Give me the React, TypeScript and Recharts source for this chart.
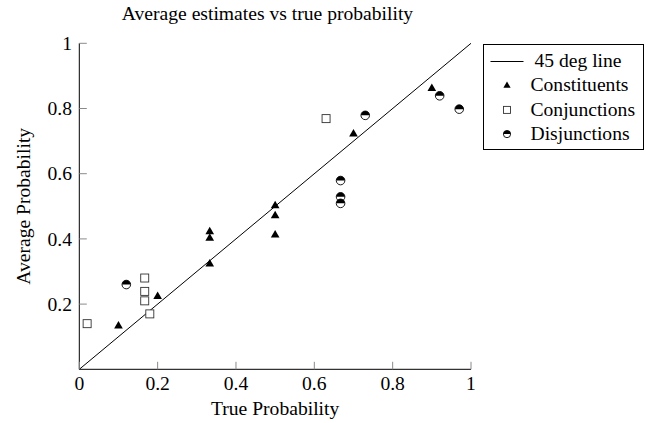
import React from 'react';
import { ScatterChart, Scatter, XAxis, YAxis, Legend } from 'recharts';

const FONT = '"Liberation Serif", "Times New Roman", Times, serif';
const FS = 19.6;

const TITLE = 'Average estimates vs true probability';
const X_LABEL = 'True Probability';
const Y_LABEL = 'Average Probability';
const X_TICKS = [0, 0.2, 0.4, 0.6, 0.8, 1];
const Y_TICKS = [0.2, 0.4, 0.6, 0.8, 1];
const FRAME_TICKS = [0.2, 0.4, 0.6, 0.8];

const DIAGONAL = [
  { x: 0, y: 0 },
  { x: 1, y: 1 },
];

const CONSTITUENTS = [
  { x: 0.1, y: 0.133 },
  { x: 0.2, y: 0.223 },
  { x: 0.333, y: 0.422 },
  { x: 0.333, y: 0.402 },
  { x: 0.333, y: 0.323 },
  { x: 0.5, y: 0.502 },
  { x: 0.5, y: 0.471 },
  { x: 0.5, y: 0.412 },
  { x: 0.7, y: 0.722 },
  { x: 0.9, y: 0.861 },
];

const CONJUNCTIONS = [
  { x: 0.02, y: 0.14 },
  { x: 0.167, y: 0.28 },
  { x: 0.167, y: 0.239 },
  { x: 0.167, y: 0.21 },
  { x: 0.18, y: 0.17 },
  { x: 0.63, y: 0.769 },
];

const DISJUNCTIONS = [
  { x: 0.12, y: 0.26 },
  { x: 0.667, y: 0.579 },
  { x: 0.667, y: 0.529 },
  { x: 0.667, y: 0.509 },
  { x: 0.73, y: 0.779 },
  { x: 0.92, y: 0.839 },
  { x: 0.97, y: 0.798 },
];

const LEGEND_LABELS = ['45 deg line', 'Constituents', 'Conjunctions', 'Disjunctions'];

const TICK_LEN = 7.5;
const TICK_COLOR = '#8a8a8a';

const tri = (cx: number, cy: number, r: number) => {
  const h = (r * Math.sqrt(3)) / 2;
  return <path d={`M${cx},${cy - r}L${cx + h},${cy + r / 2}L${cx - h},${cy + r / 2}Z`} fill="#000" />;
};
const sq = (cx: number, cy: number, s: number) => (
  <rect x={cx - s / 2} y={cy - s / 2} width={s} height={s} fill="#fff" stroke="#333" strokeWidth={0.9} />
);
const half = (cx: number, cy: number, r: number) => (
  <g>
    <circle cx={cx} cy={cy} r={r} fill="#fff" stroke="#000" strokeWidth={0.9} />
    <path d={`M${cx - r},${cy}A${r},${r} 0 0 1 ${cx + r},${cy}Z`} fill="#000" />
  </g>
);

const TriangleShape = (p: any) => tri(p.cx, p.cy, 5);
const SquareShape = (p: any) => sq(p.cx, p.cy, 8);
const HalfShape = (p: any) => half(p.cx, p.cy, 4.3);
const NoShape = () => <g />;

// x, y come from the axis (tickSize 0, tickMargin 0 => the point on the axis line)
const BottomTick = (p: any) => (
  <g>
    <line x1={p.x} x2={p.x} y1={p.y} y2={p.y - TICK_LEN} stroke={TICK_COLOR} strokeWidth={1} />
    <text x={p.x} y={p.y + 20.9} textAnchor="middle" fontFamily={FONT} fontSize={FS} fill="#000">
      {String(p.payload.value)}
    </text>
  </g>
);
const LeftTick = (p: any) => (
  <g>
    <line x1={p.x} x2={p.x + TICK_LEN} y1={p.y} y2={p.y} stroke={TICK_COLOR} strokeWidth={1} />
    <text x={p.x - 7.3} y={p.y + 6.7} textAnchor="end" fontFamily={FONT} fontSize={FS} fill="#000">
      {String(p.payload.value)}
    </text>
  </g>
);
const TopTick = (p: any) => (
  <line x1={p.x} x2={p.x} y1={p.y} y2={p.y + TICK_LEN} stroke={TICK_COLOR} strokeWidth={1} />
);
const RightTick = (p: any) => (
  <line x1={p.x} x2={p.x - TICK_LEN} y1={p.y} y2={p.y} stroke={TICK_COLOR} strokeWidth={1} />
);

const renderLegend = () => {
  const rows = [17.5, 41.7, 65.9, 90.1];
  const mx = 24;
  return (
    <svg width={161} height={106} style={{ display: 'block' }}>
      <rect x={0.5} y={0.5} width={160} height={105} fill="#fff" stroke="#000" strokeWidth={1} />
      <line x1={7.5} x2={40.5} y1={rows[0]} y2={rows[0]} stroke="#000" strokeWidth={1} />
      {tri(mx, rows[1], 4.2)}
      {sq(mx, rows[2], 7)}
      {half(mx, rows[3], 3.6)}
      {LEGEND_LABELS.map((t, i) => (
        <text
          key={t}
          x={i === 0 ? 51.5 : 47.5}
          y={rows[i] + 5.6}
          fontFamily={FONT}
          fontSize={FS}
          fill="#000"
        >
          {t}
        </text>
      ))}
    </svg>
  );
};

export default function App() {
  return (
    <div style={{ position: 'absolute', left: 0, top: 0, width: 648, height: 423, background: '#fff' }}>
      <div
        style={{
          position: 'absolute',
          left: 0,
          top: 4.1,
          width: 535,
          textAlign: 'center',
          fontFamily: FONT,
          fontSize: FS,
          lineHeight: `${FS}px`,
          color: '#000',
          whiteSpace: 'nowrap',
          zIndex: 2,
        }}
      >
        {TITLE}
      </div>
      <ScatterChart width={648} height={423} margin={{ top: 43.3, right: 177, bottom: 0, left: 0 }}>
        <XAxis
          xAxisId={0}
          type="number"
          dataKey="x"
          domain={[0, 1]}
          ticks={X_TICKS}
          interval={0}
          orientation="bottom"
          height={53.7}
          tickSize={0}
          tickMargin={0}
          axisLine={{ stroke: '#000' }}
          tickLine={false}
          tick={BottomTick}
          label={{ value: X_LABEL, position: 'insideBottom', offset: 8.5, fill: '#000', fontSize: FS, fontFamily: FONT }}
        />
        <XAxis
          xAxisId="top"
          type="number"
          domain={[0, 1]}
          ticks={FRAME_TICKS}
          interval={0}
          orientation="top"
          height={0}
          tickSize={0}
          tickMargin={0}
          axisLine={{ stroke: '#000' }}
          tickLine={false}
          tick={TopTick}
        />
        <YAxis
          yAxisId={0}
          type="number"
          dataKey="y"
          domain={[0, 1]}
          ticks={Y_TICKS}
          interval={0}
          orientation="left"
          width={79.3}
          tickSize={0}
          tickMargin={0}
          axisLine={{ stroke: '#000' }}
          tickLine={false}
          tick={LeftTick}
          label={{
            value: Y_LABEL,
            angle: -90,
            position: 'insideLeft',
            offset: 23.5,
            style: { textAnchor: 'middle' },
            fill: '#000',
            fontSize: FS,
            fontFamily: FONT,
          }}
        />
        <YAxis
          yAxisId="right"
          type="number"
          domain={[0, 1]}
          ticks={FRAME_TICKS}
          interval={0}
          orientation="right"
          width={0}
          tickSize={0}
          tickMargin={0}
          axisLine={{ stroke: '#000' }}
          tickLine={false}
          tick={RightTick}
        />
        <Legend
          layout="vertical"
          align="center"
          verticalAlign="middle"
          wrapperStyle={{ position: 'absolute', left: 482.5, top: 44, width: 161, height: 106, margin: 0 }}
          content={renderLegend}
        />
        <Scatter
          name="45 deg line"
          data={DIAGONAL}
          line={{ stroke: '#000', strokeWidth: 1 }}
          shape={NoShape}
          isAnimationActive={false}
        />
        <Scatter name="Constituents" data={CONSTITUENTS} shape={TriangleShape} isAnimationActive={false} />
        <Scatter name="Conjunctions" data={CONJUNCTIONS} shape={SquareShape} isAnimationActive={false} />
        <Scatter name="Disjunctions" data={DISJUNCTIONS} shape={HalfShape} isAnimationActive={false} />
      </ScatterChart>
    </div>
  );
}
